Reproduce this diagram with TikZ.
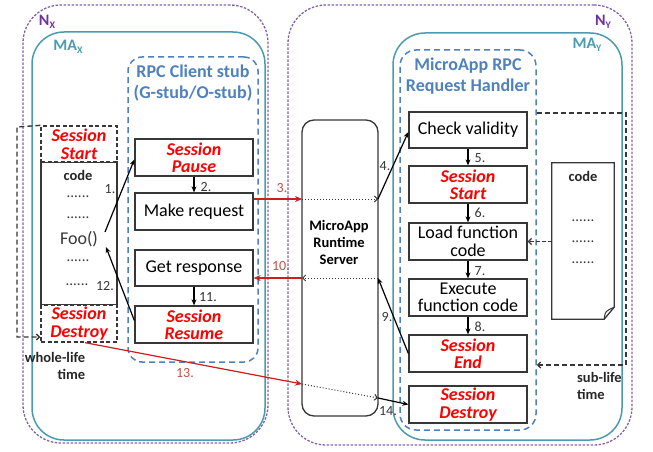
\documentclass[tikz,border=0pt]{standalone}
\usepackage{fontspec}
\setmainfont{Carlito}
\usetikzlibrary{arrows.meta,calc}
\definecolor{npurple}{RGB}{112,48,160}
\definecolor{nline}{RGB}{128,100,170}
\definecolor{mateal}{RGB}{75,155,175}
\definecolor{stubblue}{RGB}{79,129,189}
\definecolor{sred}{RGB}{255,0,0}
\definecolor{rarrow}{RGB}{204,30,30}
\definecolor{rlabel}{RGB}{192,80,77}
\definecolor{boxgray}{RGB}{55,55,55}
\newcommand{\lowsubx}[1]{{\fontsize{10}{10}\selectfont\raisebox{-2.5pt}{#1}}}
\begin{document}
\begin{tikzpicture}[x=1pt,y=-1pt,
  box/.style={draw=boxgray, line width=1.3pt, fill=white, inner sep=0pt, minimum width=118pt, minimum height=37pt, align=center, font=\fontsize{18}{17.5}\selectfont},
  sess/.style={box, text=sred, font=\fontsize{18}{17.5}\selectfont\bfseries\itshape},
  num/.style={font=\fontsize{14}{14}\selectfont, text=boxgray, inner sep=0pt},
  rnum/.style={num, text=rlabel},
  arr/.style={-{Stealth[length=6pt,width=5pt]}, line width=1.2pt, draw=black},
  redarr/.style={-{Stealth[length=7pt,width=6pt]}, line width=1.2pt, draw=rarrow},
  dotarr/.style={-{Straight Barb[length=3pt,width=6pt]}, line width=1pt, dotted, draw=boxgray},
  bracket/.style={line width=1.4pt, dash pattern=on 5pt off 3pt, draw=boxgray},
  ncont/.style={draw=nline, line width=1.3pt, dash pattern=on 2.5pt off 1.5pt, inner sep=0pt, rounded corners=38pt},
  macont/.style={draw=mateal, line width=1.5pt, inner sep=0pt, rounded corners=32pt},
  stub/.style={draw=stubblue, line width=1.5pt, dash pattern=on 6pt off 4pt, inner sep=0pt, rounded corners=16pt},
  title/.style={text=stubblue, font=\fontsize{18}{21}\selectfont\bfseries, align=center, inner sep=0pt},
  bold14/.style={font=\fontsize{14.5}{17}\selectfont\bfseries, inner sep=0pt, align=center, text=black!85},
  plain/.style={font=\fontsize{18}{18}\selectfont, inner sep=0pt, text=boxgray},
  dots/.style={font=\fontsize{15}{15}\selectfont, inner sep=0pt, text=boxgray}
]
\useasboundingbox (0,0) rectangle (653,452);
% containers
\node[ncont, minimum width=245pt, minimum height=438pt] (nx) at (145.5,224) {};
\node[macont, minimum width=233pt, minimum height=408pt] (max) at (148.5,236) {};
\node[stub, minimum width=130pt, minimum height=305pt, rounded corners=14pt] (stubx) at (193,209.5) {};
\node[ncont, minimum width=344pt, minimum height=440pt] (ny) at (460,225) {};
\node[macont, minimum width=229pt, minimum height=407pt] (may) at (507.5,236.5) {};
\node[stub, minimum width=136pt, minimum height=380pt] (handler) at (468,240) {};
% labels
\node[text=npurple, font=\fontsize{16}{16}\selectfont\bfseries, inner sep=0pt] (nxl) at (47,22) {N\lowsubx{X}};
\node[text=mateal, font=\fontsize{16}{16}\selectfont\bfseries, inner sep=0pt] (maxl) at (68,47) {MA\lowsubx{X}};
\node[text=npurple, font=\fontsize{16}{16}\selectfont\bfseries, inner sep=0pt] (nyl) at (603,22) {N\lowsubx{Y}};
\node[text=mateal, font=\fontsize{16}{16}\selectfont\bfseries, inner sep=0pt] (mayl) at (587,45) {MA\lowsubx{Y}};
\node[title] (stubt) at (193,83) {RPC Client stub\\(G-stub/O-stub)};
\node[title] (handt) at (468,76) {MicroApp RPC\\Request Handler};
% left code column
\node[box, minimum width=76pt, minimum height=143pt] (codex) at (79,233.5) {};
\node[sess, minimum width=76pt, minimum height=36pt, dash pattern=on 4pt off 2.5pt] (sstartx) at (79,144) {Session\\Start};
\node[sess, minimum width=76pt, minimum height=37pt, dash pattern=on 4pt off 2.5pt] (sdestx) at (79,323.5) {Session\\Destroy};
\node[bold14] (codet) at (78,175) {code};
\node[dots] (d1) at (78,197) {......};
\node[dots] (d2) at (78,218) {......};
\node[plain] (foo) at (79,239) {Foo()};
\node[dots] (d3) at (78,261) {......};
\node[dots] (d4) at (77,285) {......};
% stub boxes
\node[sess] (pause) at (194,157.5) {Session\\Pause};
\node[box] (make) at (194,211.5) {Make request};
\node[box, minimum height=36pt] (getr) at (194,268) {Get response};
\node[sess] (resume) at (194,324.5) {Session\\Resume};
% runtime server
\node[draw=boxgray, line width=1.3pt, rounded corners=12pt, minimum width=76pt, minimum height=296pt, inner sep=0pt] (server) at (340,268) {};
\node[bold14, text=black] (servt) at (339,242) {MicroApp\\Runtime\\Server};
% handler boxes
\node[box, minimum height=36pt] (check) at (468,130) {Check validity};
\node[sess] (sstarty) at (468,184.5) {Session\\Start};
\node[box] (load) at (468,241.5) {Load function\\code};
\node[box] (exec) at (468,297.5) {Execute\\function code};
\node[sess] (send) at (468,353.5) {Session\\End};
\node[sess] (sdesty) at (468,404.5) {Session\\Destroy};
% code document
\node[minimum width=62pt, minimum height=156pt, inner sep=0pt] (doc) at (583,241) {};
\draw[line width=1.3pt, draw=boxgray, fill=white] (doc.north west) -- (doc.north east) -- ($(doc.south east)+(0,-12)$) -- ($(doc.south east)+(-10,0)$) -- (doc.south west) -- cycle;
\draw[line width=1pt, draw=boxgray] ($(doc.south east)+(-10,0)$) .. controls ($(doc.south east)+(-9,-8)$) .. ($(doc.south east)+(0,-12)$);
\node[bold14] (codey) at (583,176) {code};
\node[dots] (e1) at (583,221) {......};
\node[dots] (e2) at (583,242) {......};
\node[dots] (e3) at (583,263) {......};
% coordinates
\coordinate (c1) at (105,232);
\coordinate (c12) at (106,247);
\coordinate (sin3) at (302,199);
\coordinate (sout3) at (378,199);
\coordinate (sin10) at (302,278);
\coordinate (sout10) at (378,278);
\coordinate (sin13) at (302,384);
\coordinate (sout13) at (378,398);
\coordinate (lb1) at (17,127);
\coordinate (lb2) at (17,337);
\coordinate (rb1) at (626,113);
\coordinate (rb2) at (626,365);
% connectors X side
\draw[arr] (c1) -- ($(pause.west)+(0,2)$);
\draw[arr] (pause.south) -- (make.north);
\draw[arr] (getr.south) -- (resume.north);
\draw[arr] ($(resume.west)+(0,-4)$) -- (c12);
\node[num] (n1) at (110,189) {1.};
\node[num] (n2) at (206,187) {2.};
\node[num] (n11) at (208,297) {11.};
\node[num] (n12) at (105,286) {12.};
% bracket left
\draw[bracket, -{Straight Barb[length=3pt,width=6pt]}] (sstartx.north west) -- (lb1) -- (lb2) -- (sdestx.west |- lb2);
\node[bold14, align=right] (wl) at (55,366) {whole-life\\\hspace*{1.2em}time};
% red arrows
\draw[redarr] (make.east |- sin3) -- (sin3);
\draw[dotarr] (sin3) -- (sout3);
\draw[dotarr] (sout10) -- (sin10);
\draw[redarr] (sin10) -- (getr.east |- sin10);
\draw[redarr] ($(sdestx.south)+(6,0)$) -- (sin13);
\draw[dotarr] (sin13) -- (sout13);
\node[rnum] (n3) at (282,188) {3.};
\node[rnum] (n10) at (281,266) {10.};
\node[rnum] (n13) at (185,373) {13.};
% Y side connectors
\draw[arr] (sout3) -- ($(check.west)+(0,2)$);
\draw[arr] (check.south) -- (sstarty.north);
\draw[arr] (sstarty.south) -- (load.north);
\draw[arr] (load.south) -- (exec.north);
\draw[arr] (exec.south) -- (send.north);
\draw[arr] (send.west) -- (sout10);
\draw[arr] (sout13) -- (sdesty.west);
\node[num] (n4) at (385,166) {4.};
\node[num] (n5) at (480,158) {5.};
\node[num] (n6) at (480,213) {6.};
\node[num] (n7) at (480,271) {7.};
\node[num] (n8) at (480,327) {8.};
\node[num] (n9) at (387,317) {9.};
\node[num] (n14) at (388,411) {14.};
% doc to load
\draw[bracket, line width=1.2pt, dash pattern=on 4pt off 2pt, -{Straight Barb[length=3pt,width=6pt]}] (doc.west |- load.east) -- (load.east);
% right bracket
\draw[bracket, -{Straight Barb[length=3pt,width=6pt]}] (handler.east |- rb1) -- (rb1) -- (rb2) -- (handler.east |- rb2);
\node[bold14, align=left, anchor=west] (sl) at (577,386) {sub-life\\time};
\end{tikzpicture}
\end{document}
